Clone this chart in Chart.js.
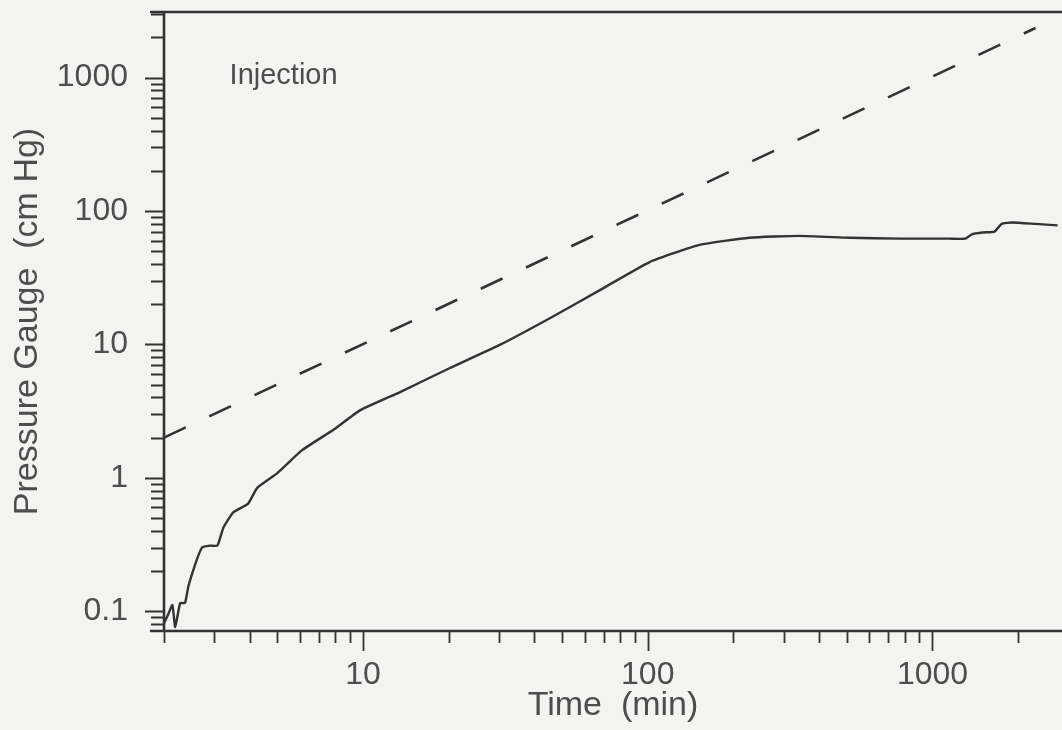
<!DOCTYPE html>
<html>
<head>
<meta charset="utf-8">
<title>Pressure Gauge vs Time</title>
<script src="https://cdn.jsdelivr.net/npm/chart.js@4.4.1/dist/chart.umd.min.js"></script>
<style>
  html, body { margin: 0; padding: 0; background: #f3f3f1; }
  canvas { display: block; }
</style>
</head>
<body>
<canvas id="pressureChart" width="1062" height="730"></canvas>
<script>
// -----------------------------
// DATA
// -----------------------------
const timeMin = [2.0, 2.07, 2.14, 2.19, 2.28, 2.37, 2.43, 2.51, 2.62, 2.72, 2.9, 3.08, 3.23, 3.5, 3.95, 4.25, 4.99,
    6.11, 7.85, 9.76, 13.5, 20.2, 30.2, 45.3, 67.9, 101.6, 152, 228, 340, 510, 770, 1150, 1300, 1380, 1500, 1650,
    1750, 1900, 2300, 2750];
const pressure = [0.081, 0.095, 0.111, 0.076, 0.115, 0.115, 0.15, 0.19, 0.25, 0.30, 0.31, 0.31, 0.42, 0.55, 0.64,
    0.84, 1.08, 1.61, 2.28, 3.2, 4.39, 6.65, 9.9, 15.7, 25.5, 41.4, 55.6, 63, 65, 63, 62, 62, 62, 67, 69, 70,
    80, 82, 80, 78];

// dashed reference line (unit slope)
const refTime = [2, 2300];
const refPressure = [2, 2350];

// labelled ticks
const xTickLabels = [10, 100, 1000];
const yTickLabels = [0.1, 1, 10, 100, 1000];

// axis ranges
const xRange = [2, 2850];
const yRange = [0.071, 3100];

// note in the plot
const noteText = "Injection";
const noteAt = { x: 3.4, y: 900 };

// -----------------------------
// STYLE
// -----------------------------
const INK = "#333333";
const TEXT = "#4d4d4d";
const FONT = "'Liberation Sans', Arial, sans-serif";

function toPoints(xs, ys) {
    return xs.map((x, i) => ({ x: x, y: ys[i] }));
}

// -----------------------------
// PLUGIN: frame, log ticks, note
// -----------------------------
const plotterFrame = {
    id: "plotterFrame",
    afterDraw(chart) {
        const { ctx, chartArea: a, scales: { x, y } } = chart;
        ctx.save();
        ctx.strokeStyle = INK;
        ctx.lineCap = "butt";

        // axis lines (top + bottom run a bit past the left axis)
        ctx.lineWidth = 2.6;
        ctx.beginPath();
        ctx.moveTo(a.left - 14, a.top); ctx.lineTo(a.right, a.top);
        ctx.moveTo(a.left - 14, a.bottom); ctx.lineTo(a.right, a.bottom);
        ctx.moveTo(a.left, a.top); ctx.lineTo(a.left, a.bottom);
        ctx.stroke();

        // log ticks: 1..9 per decade, decades longer
        ctx.lineWidth = 1.8;
        ctx.beginPath();
        for (let e = -2; e <= 4; e++) {
            for (let m = 1; m <= 9; m++) {
                const v = m * Math.pow(10, e);
                const len = m === 1 ? 20 : 12;
                if (v >= x.min * 0.999 && v <= x.max) {
                    const px = Math.round(x.getPixelForValue(v)) + 0.5;
                    ctx.moveTo(px, a.bottom); ctx.lineTo(px, a.bottom + len);
                }
                if (v >= y.min && v <= y.max) {
                    const py = Math.round(y.getPixelForValue(v)) + 0.5;
                    ctx.moveTo(a.left, py); ctx.lineTo(a.left - (m === 1 ? 19 : 13), py);
                }
            }
        }
        ctx.stroke();

        // note text
        ctx.fillStyle = TEXT;
        ctx.font = "29px " + FONT;
        ctx.textAlign = "left";
        ctx.textBaseline = "alphabetic";
        ctx.fillText(noteText, x.getPixelForValue(noteAt.x), y.getPixelForValue(noteAt.y));
        ctx.restore();
    }
};

// -----------------------------
// RENDER
// -----------------------------
function renderPressureChart() {
    const canvas = document.getElementById("pressureChart");
    if (!canvas) return;

    new Chart(canvas, {
        type: "line",
        data: {
            datasets: [
                {
                    label: "Pressure",
                    data: toPoints(timeMin, pressure),
                    borderColor: INK,
                    borderWidth: 2.4,
                    pointRadius: 0,
                    tension: 0.15,
                    fill: false
                },
                {
                    label: "Reference",
                    data: toPoints(refTime, refPressure),
                    borderColor: INK,
                    borderWidth: 2.6,
                    borderDash: [24, 26],
                    pointRadius: 0,
                    fill: false
                }
            ]
        },
        options: {
            responsive: false,
            animation: false,
            devicePixelRatio: 1,
            layout: { padding: { top: 12, right: 0, bottom: 0, left: 0 } },
            plugins: {
                legend: { display: false },
                tooltip: { enabled: false }
            },
            scales: {
                x: {
                    type: "logarithmic",
                    min: xRange[0],
                    max: xRange[1],
                    afterBuildTicks: s => { s.ticks = xTickLabels.map(v => ({ value: v })); },
                    afterFit: s => {
                        s.height = 99;
                        s.paddingLeft = 0;
                        s.paddingRight = 0;
                    },
                    grid: { display: false, drawTicks: false },
                    border: { display: false },
                    ticks: {
                        autoSkip: false,
                        maxRotation: 0,
                        padding: 25,
                        color: TEXT,
                        font: { family: FONT, size: 32 },
                        callback: v => String(v)
                    },
                    title: {
                        display: true,
                        text: "Time  (min)",
                        color: TEXT,
                        font: { family: FONT, size: 34 },
                        padding: { top: 0, bottom: 4 }
                    }
                },
                y: {
                    type: "logarithmic",
                    min: yRange[0],
                    max: yRange[1],
                    afterBuildTicks: s => { s.ticks = yTickLabels.map(v => ({ value: v })); },
                    afterFit: s => {
                        s.width = 164;
                        s.paddingTop = 0;
                        s.paddingBottom = 0;
                    },
                    grid: { display: false, drawTicks: false },
                    border: { display: false },
                    ticks: {
                        autoSkip: false,
                        padding: 36,
                        color: TEXT,
                        font: { family: FONT, size: 32 },
                        callback: v => String(v)
                    },
                    title: {
                        display: true,
                        text: "Pressure Gauge  (cm Hg)",
                        color: TEXT,
                        font: { family: FONT, size: 34 },
                        padding: { top: 7, bottom: 0 }
                    }
                }
            }
        },
        plugins: [plotterFrame]
    });
}

document.addEventListener("DOMContentLoaded", renderPressureChart);
</script>
</body>
</html>
